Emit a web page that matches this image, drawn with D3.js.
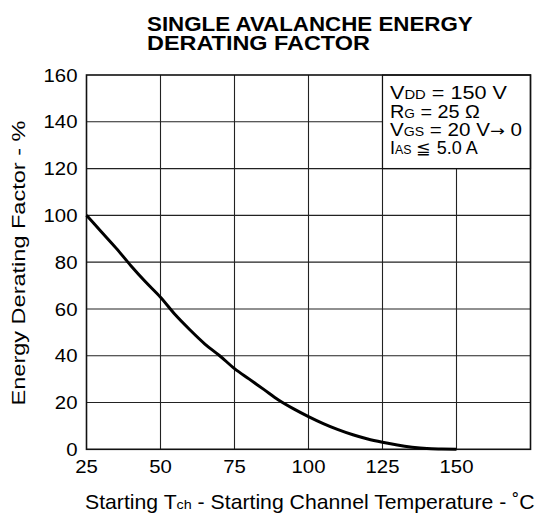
<!DOCTYPE html>
<html><head><meta charset="utf-8">
<script src="https://cdn.jsdelivr.net/npm/d3@7/dist/d3.min.js"></script>
<style>html,body{margin:0;padding:0;background:#fff;}svg{display:block;font-family:"Liberation Sans",Arial,sans-serif;}</style>
</head><body>
<script>
const temps  = [25,30,35,40,45,50,55,60,65,70,75,80,85,90,95,100,105,110,115,120,125,130,135,140,145,150];
const factor = [100,93,86,78.5,71.5,65,57.5,51,45,40,34.5,30,25.5,21,17.3,14,11,8.4,6.2,4.4,3,1.8,0.9,0.3,0.1,0];
const xTicks = [25,50,75,100,125,150];
const yTicks = [0,20,40,60,80,100,120,140,160];
const titleLines = ["SINGLE AVALANCHE ENERGY","DERATING FACTOR"];
const legendLines = [
  [["V",""],["DD","sub"],[" = 150 V",""]],
  [["R",""],["G","sub"],[" = 25  Ω",""]],
  [["V",""],["GS","sub"],[" = 20 V",""],["→","arr"],[" 0",""]],
  [["I",""],["AS","sub"],[" ≦ 5.0 A",""]]
];

const W=537,H=515;
const svg=d3.select("body").append("svg").attr("width",W).attr("height",H);
const x=d3.scaleLinear().domain([25,175]).range([86.5,530.5]);
const y=d3.scaleLinear().domain([0,160]).range([449.3,75]);

function fit(node, ax, width){
  const w=node.getComputedTextLength();
  const sx=width/w;
  d3.select(node).attr("transform",`translate(${ax},0) scale(${sx},1) translate(${-ax},0)`);
}
function stretch(node, ax, sx){
  d3.select(node).attr("transform",`translate(${ax},0) scale(${sx},1) translate(${-ax},0)`);
}

// grid
const g=svg.append("g");
g.selectAll(".vg").data(xTicks.slice(1)).enter().append("line")
 .attr("x1",d=>x(d)).attr("x2",d=>x(d)).attr("y1",y(0)).attr("y2",y(160))
 .attr("stroke","#222").attr("stroke-width",1.1);
g.selectAll(".hg").data(yTicks.slice(1,-1)).enter().append("line")
 .attr("x1",x(25)).attr("x2",x(175)).attr("y1",d=>y(d)).attr("y2",d=>y(d))
 .attr("stroke","#222").attr("stroke-width",1.1);

// legend box (covers grid)
svg.append("rect").attr("x",x(125)).attr("y",y(160)).attr("width",x(175)-x(125)).attr("height",y(120)-y(160))
 .attr("fill","#fff").attr("stroke","#111").attr("stroke-width",1.2);

// border
svg.append("rect").attr("x",x(25)).attr("y",y(160)).attr("width",x(175)-x(25)).attr("height",y(0)-y(160))
 .attr("fill","none").attr("stroke","#111").attr("stroke-width",1.6);

// curve
const line=d3.line().x((d,i)=>x(temps[i])).y(d=>y(d)).curve(d3.curveMonotoneX);
svg.append("path").datum(factor).attr("d",line).attr("fill","none").attr("stroke","#000").attr("stroke-width",3);

// tick labels
svg.selectAll(".yt").data(yTicks).enter().append("text")
 .attr("x",77.5).attr("y",d=>y(d)+6.6).attr("text-anchor","end").attr("font-size",18.5).text(d=>d)
 .each(function(){ stretch(this,77.5,1.1); });
svg.selectAll(".xt").data(xTicks).enter().append("text")
 .attr("x",d=>x(d)).attr("y",473.3).attr("text-anchor","middle").attr("font-size",18.5).text(d=>d)
 .each(function(d){ stretch(this,x(d),1.1); });

// title
const titleW=[326,223];
svg.selectAll(".tt").data(titleLines).enter().append("text")
 .attr("x",147).attr("y",(d,i)=>31.5+i*18.8).attr("font-size",21).attr("font-weight","bold").text(d=>d)
 .each(function(d,i){ fit(this,147,titleW[i]); });

// legend text
const legW=[117,90,132,88];
legendLines.forEach((ln,i)=>{
  const t=svg.append("text").attr("x",390).attr("y",99.5+i*18.3).attr("font-size",17.5);
  ln.forEach(([s,k])=>{
    const ts=t.append("tspan").attr("font-size",k==="sub"?12:17.5).text(s);
    if(k==="arr") ts.attr("font-family","DejaVu Sans").attr("font-size",15);
  });
  fit(t.node(),390,legW[i]);
});

// y title
const yg=svg.append("g").attr("transform","translate(25,263) rotate(-90)");
const ytt=yg.append("text").attr("x",0).attr("y",0).attr("text-anchor","middle")
 .attr("font-size",18).text("Energy Derating Factor - %");
fit(ytt.node(),0,285);

// x title
const xt=svg.append("text").attr("x",85).attr("y",509.5).attr("font-size",20);
xt.append("tspan").text("Starting T");
xt.append("tspan").attr("font-size",13.5).text("ch");
xt.append("tspan").text(" -  Starting Channel Temperature - ˚C");
fit(xt.node(),85,450);
</script>
</body></html>
